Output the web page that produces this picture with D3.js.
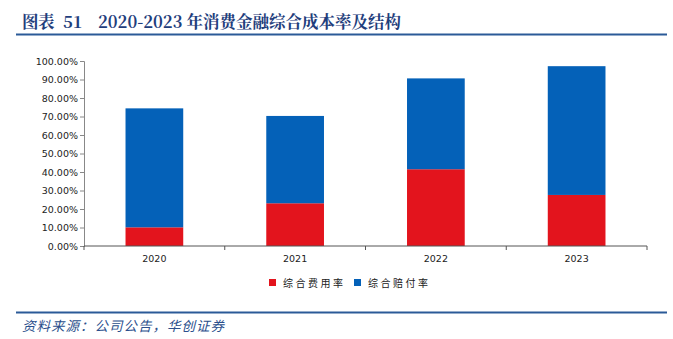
<!DOCTYPE html>
<html><head><meta charset="utf-8">
<script src="https://cdn.jsdelivr.net/npm/d3@7"></script>
<style>body{margin:0;background:#fff}svg{display:block}</style>
</head><body>
<svg id="c" width="673" height="339"></svg>
<script>
const categories = ["2020","2021","2022","2023"];
const feeRate = [10.1, 23.1, 41.5, 27.6];      // 综合费用率
const payoutRate = [64.3, 47.2, 49.1, 69.6];   // 综合赔付率
const seriesNames = ["综合费用率","综合赔付率"];
const colors = ["#E3141D","#0461B8"];
const yTicks = [0,10,20,30,40,50,60,70,80,90,100];

const svg = d3.select("#c");
const navy = "#1F3E7C";
const serif = "'Noto Serif CJK SC','Liberation Serif','Noto Sans CJK SC',serif";

// title
const tt = (x, s, ls) => svg.append("text").attr("x",x).attr("y",28)
  .attr("font-family",serif).attr("font-weight","bold").attr("font-size",16.5).attr("fill",navy)
  .attr("letter-spacing",ls).text(s);
tt(22,"图表",-0.5);
tt(63,"51",0);
tt(98,"2020-2023 年消费金融综合成本率及结构",0);
svg.append("line").attr("x1",16).attr("x2",667).attr("y1",34.5).attr("y2",34.5)
  .attr("stroke","#2B5A98").attr("stroke-width",2);
svg.append("line").attr("x1",16).attr("x2",667).attr("y1",312.5).attr("y2",312.5)
  .attr("stroke","#2B5A98").attr("stroke-width",2);
svg.append("text").attr("x",22).attr("y",331)
  .attr("font-family","'Noto Sans CJK SC',sans-serif").attr("font-style","italic")
  .attr("font-size",13.5).attr("fill","#2B4F8C").attr("letter-spacing",1)
  .text("资料来源：公司公告，华创证券");

const x = d3.scaleBand().domain(categories).range([84,647]).paddingInner(0.59).paddingOuter(0.295);
const y = d3.scaleLinear().domain([0,100]).range([246,61]);

const stack = d3.stack().keys([0,1]).value((d,k)=>d[k]);
const rows = categories.map((c,i)=>[feeRate[i],payoutRate[i]]);
const layers = stack(rows);

layers.forEach((layer,k)=>{
  svg.append("g").selectAll("rect").data(layer).join("rect")
    .attr("x",(d,i)=>x(categories[i]))
    .attr("width",x.bandwidth())
    .attr("y",d=>y(d[1]))
    .attr("height",d=>y(d[0])-y(d[1]))
    .attr("fill",colors[k]);
});

// y axis
const yAxis = d3.axisLeft(y).tickValues(yTicks).tickSize(4).tickFormat(d=>d.toFixed(2)+"%");
const gy = svg.append("g").attr("transform","translate(84,0)").call(yAxis);
gy.select(".domain").attr("stroke","#888");
gy.selectAll(".tick line").attr("stroke","#888");
gy.selectAll("text").attr("font-family","'DejaVu Sans',Verdana,sans-serif").attr("font-size",9.5).attr("fill","#222").attr("x",-6);

// x axis
const xb = d3.scalePoint().domain(d3.range(5)).range([84,647]);
const gx = svg.append("g").attr("transform","translate(0,246)");
gx.append("line").attr("x1",84).attr("x2",647).attr("stroke","#555").attr("stroke-width",1);
gx.selectAll("line.t").data(d3.range(5)).join("line").attr("class","t")
  .attr("x1",d=>xb(d)).attr("x2",d=>xb(d)).attr("y1",0).attr("y2",4).attr("stroke","#555");
gx.selectAll("text").data(categories).join("text")
  .attr("x",d=>x(d)+x.bandwidth()/2).attr("y",16).attr("text-anchor","middle")
  .attr("font-family","'DejaVu Sans',Verdana,sans-serif").attr("font-size",9.5).attr("fill","#222")
  .text(d=>d);

// legend
const lg = svg.append("g");
const lx = [269, 354];
seriesNames.forEach((n,i)=>{
  lg.append("rect").attr("x",lx[i]).attr("y",279).attr("width",7).attr("height",7).attr("fill",colors[i]);
  lg.append("text").attr("x",lx[i]+14).attr("y",287)
    .attr("font-family","'Noto Sans CJK SC',sans-serif").attr("font-size",10).attr("fill","#222")
    .attr("letter-spacing",2.5).text(n);
});
</script>
</body></html>
